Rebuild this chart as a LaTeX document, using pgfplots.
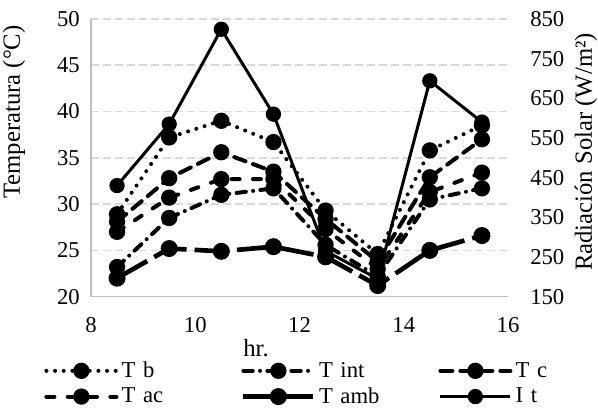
\documentclass[border=0pt]{standalone}
\usepackage{fontspec}
\setmainfont{Liberation Serif}
\usepackage{pgfplots}
\pgfplotsset{compat=1.18}
\definecolor{gridc}{HTML}{D9D9D9}
\definecolor{axc}{HTML}{BFBFBF}
\newcommand{\fs}{\fontsize{17}{20}\selectfont}
\newcommand{\fl}{\fontsize{18.5}{22}\selectfont}
\pgfplotsset{
  common/.style={
    width=312.75pt, height=208.3pt, scale only axis, clip=false,
    xmin=8, xmax=16,
    major tick length=0pt,
    tick label style={font=\fs, inner sep=0pt},
    label style={font=\fl},
    /pgf/number format/assume math mode=true,
  },
  tb/.style={black, line width=3pt, line cap=round, dash pattern=on 0pt off 6.5pt, mark=*, mark size=4.6pt, mark options={solid, fill=black}},
  tint/.style={black, line width=3pt, line cap=round, dash pattern=on 7pt off 5.5pt on 0pt off 5.5pt, mark=*, mark size=4.6pt, mark options={solid, fill=black}},
  tc/.style={black, line width=3pt, line cap=round, dash pattern=on 9pt off 6pt, mark=*, mark size=4.6pt, mark options={solid, fill=black}},
  tac/.style={black, line width=3pt, line cap=round, dash pattern=on 6pt off 10pt, mark=*, mark size=4.6pt, mark options={solid, fill=black}},
  tamb/.style={black, line width=3.5pt, line cap=butt, dash pattern=on 26pt off 6pt, mark=*, mark size=4.6pt, mark options={solid, fill=black}},
  it/.style={black, line width=2.25pt, mark=*, mark size=4.6pt, mark options={solid, fill=black}},
}
\begin{document}
\begin{tikzpicture}[x=1pt,y=1pt]
\useasboundingbox (-68.25,-85) rectangle (380.25,222.5);
\begin{axis}[common,
  at={(0,0)}, anchor=south west,
  ymin=20, ymax=50,
  xtick={8,10,12,14,16}, ytick={20,25,...,50},
  axis x line*=bottom, axis y line*=left,
  axis line style={axc, line width=1.2pt},
  ymajorgrids, grid style={gridc, line width=1.1pt, dash pattern=on 6pt off 3pt},
  xticklabel style={anchor=center, yshift=-21pt},
  yticklabel style={anchor=east, xshift=-8.25pt},
  xlabel={hr.},
  xlabel style={at={(axis description cs:0.3957,0)}, anchor=center, yshift=-38.5pt},
  ylabel={Temperatura (°C)},
  ylabel style={at={(axis description cs:-0.185,0.665)}, anchor=center, rotate=0},
  legend columns=3,
  legend image code/.code={\draw[mark repeat=2, mark phase=2, #1] plot coordinates {(0pt,0pt) (26.25pt,0pt) (52.5pt,0pt)};},
  legend style={at={(axis description cs:-0.122,-0.215)}, anchor=north west, draw=none, fill=none, font=\fs,
    column sep=0pt, row sep=2pt, nodes={text width=87pt, align=left, inner xsep=2.5pt, inner ysep=2pt}},
]
\addplot[tb] coordinates {(8.5,28.9) (9.5,37.2) (10.5,39.0) (11.5,36.7) (12.5,29.3) (13.5,24.6) (14.5,35.8) (15.5,38.5)};
\addlegendentry{T b}
\addplot[tint] coordinates {(8.5,23.2) (9.5,28.5) (10.5,31.0) (11.5,31.7) (12.5,25.6) (13.5,22.2) (14.5,30.5) (15.5,31.7)};
\addlegendentry{T int}
\addplot[tc] coordinates {(8.5,28.1) (9.5,32.8) (10.5,35.6) (11.5,33.5) (12.5,28.4) (13.5,23.8) (14.5,32.9) (15.5,37.0)};
\addlegendentry{T c}
\addplot[tac] coordinates {(8.5,27.0) (9.5,30.7) (10.5,32.7) (11.5,32.7) (12.5,27.3) (13.5,23.0) (14.5,31.3) (15.5,33.4)};
\addlegendentry{T ac}
\addplot[tamb] coordinates {(8.5,22.0) (9.5,25.2) (10.5,24.9) (11.5,25.4) (12.5,24.3) (13.5,21.2) (14.5,25.0) (15.5,26.6)};
\addlegendentry{T amb}
\addlegendimage{it}
\addlegendentry{I t}
\end{axis}
\begin{axis}[common,
  at={(0,0)}, anchor=south west,
  ymin=150, ymax=850,
  ytick={150,250,...,850},
  axis x line=none, axis y line*=right,
  y axis line style={draw=none},
  yticklabel style={anchor=west, xshift=16.5pt},
  ylabel={Radiación Solar (W/m²)},
  ylabel style={at={(axis description cs:1.187,0.521)}, anchor=center, rotate=0},
]
\addplot[it] coordinates {(8.5,430) (9.5,585) (10.5,824) (11.5,610) (12.5,265) (13.5,195) (14.5,694) (15.5,590)};
\end{axis}
\end{tikzpicture}
\end{document}
